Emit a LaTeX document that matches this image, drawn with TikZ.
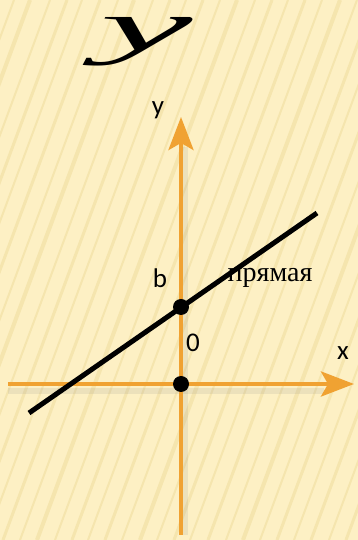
\documentclass[tikz,border=0pt]{standalone}
\usepackage{fontspec}
\setmainfont{Liberation Serif}
\newfontfamily\labfont{Carlito}
\usepackage{xcolor}
\definecolor{paper}{HTML}{FDF0C4}
\definecolor{streak}{HTML}{F5E5AE}
\definecolor{axis}{HTML}{F0A232}
\usetikzlibrary{arrows.meta,positioning}
\tikzset{
  axisline/.style={draw=axis,line width=4pt,-{Stealth[length=33pt,width=25pt,inset=7pt]}},
  axshadow/.style={draw=black!45,line width=6pt,opacity=0.15},
  graphline/.style={draw=black,line width=5pt},
  dot/.style={circle,fill=black,inner sep=0pt,minimum size=16pt},
  lab/.style={font=\labfont\fontsize{27}{27}\selectfont,inner sep=0pt},
  word/.style={font=\fontsize{28}{28}\selectfont,inner sep=0pt},
}
\begin{document}
\begin{tikzpicture}[x=1pt,y=1pt]
% background with streaks
\fill[paper] (0,0) rectangle (358,540);
\begin{scope}
\clip (0,0) rectangle (358,540);
\foreach \k/\w in {-220/2,-205/3,-186/2,-170/4,-150/2,-133/3,-118/2,-100/3,-82/2,-66/4,-47/2,-30/3,-14/2,3/3,20/2,37/4,55/2,72/3,88/2,105/3,122/2,140/4,157/2,174/3,190/2,208/3,226/2,243/4,260/2,277/3,294/2,311/3,329/2,346/3}
  \draw[streak,line width=\w pt] (\k,0) -- ++(200,540);
\end{scope}
\useasboundingbox (0,0) rectangle (358,540);
% big letter
\node[inner sep=0pt] (big) at (147,498) {\scalebox{10.4}[3.6]{\fontsize{20}{20}\selectfont\itshape y}};
% axes
\coordinate (ybot) at (181,5);
\coordinate (ytop) at (181,423);
\coordinate (xlft) at (8,156);
\coordinate (xrgt) at (354,156);
\draw[axshadow] ([xshift=4pt]ybot) -- ([xshift=4pt,yshift=-30pt]ytop);
\draw[axshadow] ([yshift=-7pt]xlft) -- ([xshift=-30pt,yshift=-7pt]xrgt);
\draw[axisline] (ybot) -- (ytop);
\draw[axisline] (xlft) -- (xrgt);
% straight line
\coordinate (l1) at (29,127);
\coordinate (l2) at (317,327);
\draw[graphline] (l1) -- (l2);
\node[dot] (b) at (181,233) {};
\node[dot] (o) at (181,156) {};
% labels
\node[lab] (ylab) at (158,430) {y};
\node[lab] (blab) at (160,262) {b};
\node[lab] (olab) at (193,197) {0};
\node[lab] (xlab) at (343,187) {x};
\node[word] (name) at (270,262) {прямая};
\end{tikzpicture}
\end{document}
